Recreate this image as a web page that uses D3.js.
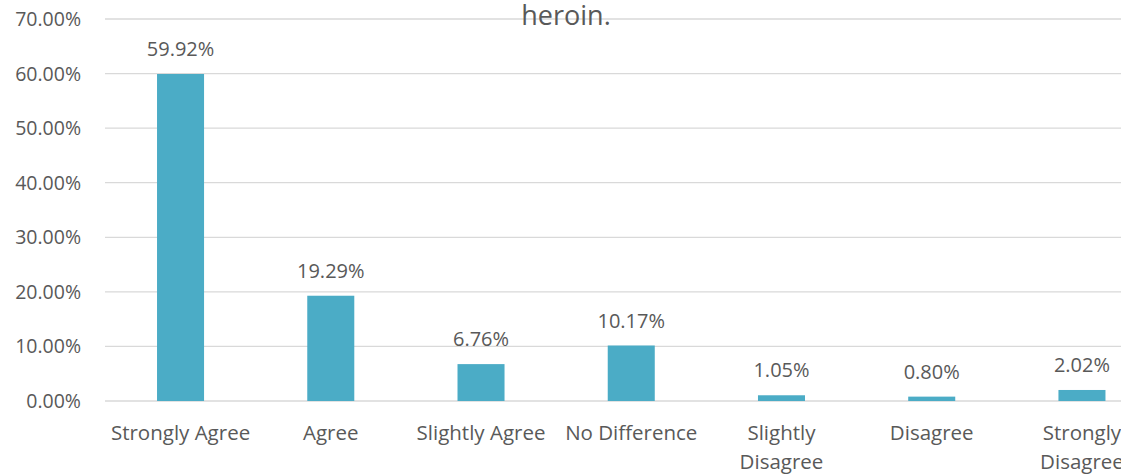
<!DOCTYPE html>
<html>
<head>
<script src="https://d3js.org/d3.v7.min.js"></script>
<style>
  body { margin: 0; background: #fff; }
  svg { display: block; }
  text { font-family: "Open Sans", Lato, sans-serif; fill: #595959; }
</style>
</head>
<body>
<svg></svg>
<script>
// data
const categories = ['Strongly Agree', 'Agree', 'Slightly Agree', 'No Difference',
                    'Slightly Disagree', 'Disagree', 'Strongly Disagree'];
const values = [59.92, 19.29, 6.76, 10.17, 1.05, 0.80, 2.02];
const yTicks = [0, 10, 20, 30, 40, 50, 60, 70];
const titleText = 'heroin.';

const width = 1121, height = 476;
const svg = d3.select('svg').attr('width', width).attr('height', height);

// plot runs off the right edge, like the reference crop
const x = d3.scaleBand().domain(categories).range([105.5, 1157]).paddingInner(0.687).paddingOuter(0.343);
const y = d3.scaleLinear().domain([0, 70]).range([401, 19]);

// gridlines
svg.append('g').selectAll('line')
  .data(yTicks)
  .join('line')
    .attr('x1', 105).attr('x2', width)
    .attr('y1', d => y(d)).attr('y2', d => y(d))
    .attr('stroke', '#d9d9d9').attr('stroke-width', 1.3);

// y labels
svg.append('g').selectAll('text')
  .data(yTicks)
  .join('text')
    .attr('x', 81).attr('y', d => y(d))
    .attr('dy', '0.36em')
    .attr('text-anchor', 'end')
    .attr('font-size', 19.5)
    .text(d => d.toFixed(2) + '%');

// bars
svg.append('g').selectAll('rect')
  .data(values)
  .join('rect')
    .attr('x', (d, i) => x(categories[i]))
    .attr('y', d => y(d))
    .attr('width', x.bandwidth())
    .attr('height', d => y(0) - y(d))
    .attr('fill', '#4bacc6');

// value labels
svg.append('g').selectAll('text')
  .data(values)
  .join('text')
    .attr('x', (d, i) => x(categories[i]) + x.bandwidth() / 2)
    .attr('y', d => y(d) - 18)
    .attr('text-anchor', 'middle')
    .attr('font-size', 20)
    .text(d => d.toFixed(2) + '%');

// category labels, wrapped like the original
const wrapped = {
  'Slightly Disagree': ['Slightly', 'Disagree'],
  'Strongly Disagree': ['Strongly', 'Disagree']
};
const cat = svg.append('g').selectAll('text')
  .data(categories)
  .join('text')
    .attr('x', d => x(d) + x.bandwidth() / 2)
    .attr('y', 440)
    .attr('text-anchor', 'middle')
    .attr('font-size', 20.5);
cat.each(function(d) {
  const lines = wrapped[d] || [d];
  d3.select(this).selectAll('tspan')
    .data(lines)
    .join('tspan')
      .attr('x', x(d) + x.bandwidth() / 2)
      .attr('dy', (l, i) => i ? 28.5 : 0)
      .text(l => l);
});

// title (only its last line is visible)
svg.append('text')
  .attr('x', 566).attr('y', 25)
  .attr('text-anchor', 'middle')
  .attr('font-size', 27)
  .text(titleText);
</script>
</body>
</html>
